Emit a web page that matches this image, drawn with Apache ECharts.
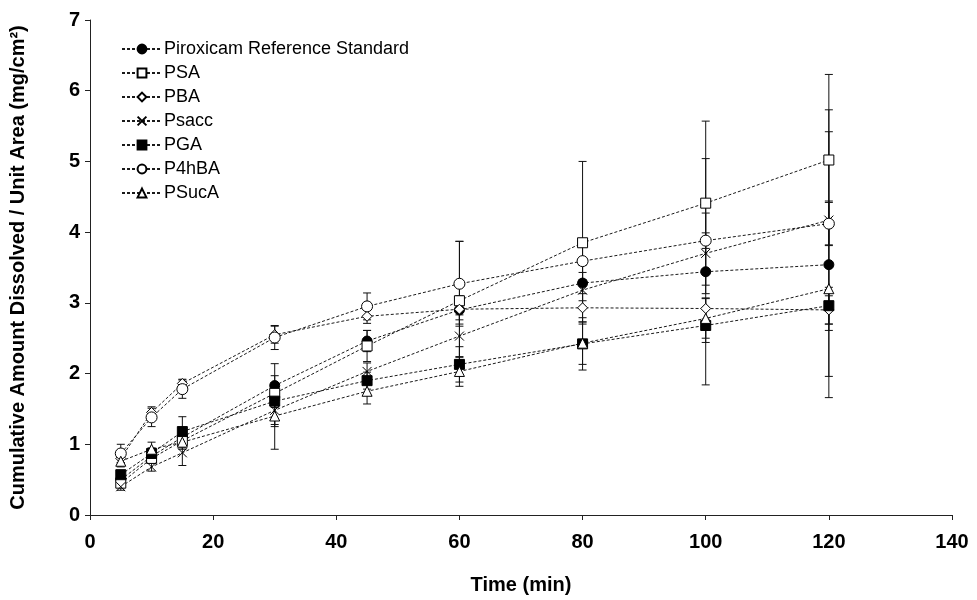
<!DOCTYPE html>
<html>
<head>
<meta charset="utf-8">
<title>Cumulative dissolution profiles</title>
<script src="https://cdn.jsdelivr.net/npm/echarts@6/dist/echarts.min.js"></script>
<style>
  html, body { margin: 0; padding: 0; background: #fff; }
  #chart { width: 977px; height: 600px; }
</style>
</head>
<body>
<div id="chart"></div>
<script>
// Sampling times (min)
const times = [5, 10, 15, 30, 45, 60, 80, 100, 120];

// Mean cumulative amount dissolved per unit area (mg/cm²) and SD for each formulation
const piroxicam   = [0.50, 0.83, 1.10, 1.83, 2.46, 2.90, 3.28, 3.44, 3.54];
const piroxicamSd = [0.05, 0.08, 0.10, 0.31, 0.15, 0.20, 0.25, 1.60, 1.88];

const psa   = [0.45, 0.80, 1.05, 1.72, 2.39, 3.03, 3.85, 4.41, 5.02];
const psaSd = [0.05, 0.06, 0.10, 0.15, 0.22, 0.84, 1.15, 1.16, 1.21];

const pba   = [0.80, 1.45, 1.86, 2.55, 2.81, 2.91, 2.93, 2.92, 2.90];
const pbaSd = [0.06, 0.08, 0.06, 0.12, 0.10, 0.15, 0.20, 0.15, 0.20];

const psacc   = [0.40, 0.68, 0.88, 1.48, 2.03, 2.53, 3.18, 3.70, 4.17];
const psaccSd = [0.05, 0.06, 0.18, 0.20, 0.12, 0.30, 0.25, 0.57, 1.56];

const pga   = [0.57, 0.87, 1.18, 1.61, 1.90, 2.13, 2.42, 2.68, 2.96];
const pgaSd = [0.06, 0.08, 0.21, 0.36, 0.12, 0.25, 0.37, 0.24, 0.26];

const p4hba   = [0.87, 1.38, 1.78, 2.51, 2.95, 3.27, 3.59, 3.88, 4.12];
const p4hbaSd = [0.13, 0.13, 0.13, 0.17, 0.19, 0.60, 0.26, 0.11, 0.30];

const psuca   = [0.76, 0.93, 1.03, 1.40, 1.75, 2.03, 2.43, 2.78, 3.20];
const psucaSd = [0.08, 0.10, 0.10, 0.47, 0.18, 0.21, 0.30, 0.28, 1.24];

// Y axis tick labels
const yTicks = ['0', '1', '2', '3', '4', '5', '6', '7'];

const crossPath = 'path://M0,0L10,10M0,10L10,0';

const seriesDefs = [
  { name: 'Piroxicam Reference Standard', values: piroxicam, sd: piroxicamSd, symbol: 'circle', fill: '#000', size: 10 },
  { name: 'PSA',   values: psa,   sd: psaSd,   symbol: 'rect',     fill: '#fff', size: 10 },
  { name: 'PBA',   values: pba,   sd: pbaSd,   symbol: 'diamond',  fill: '#fff', size: 10 },
  { name: 'Psacc', values: psacc, sd: psaccSd, symbol: crossPath,  fill: 'none', size: 9 },
  { name: 'PGA',   values: pga,   sd: pgaSd,   symbol: 'rect',     fill: '#000', size: 10 },
  { name: 'P4hBA', values: p4hba, sd: p4hbaSd, symbol: 'circle',   fill: '#fff', size: 11 },
  { name: 'PSucA', values: psuca, sd: psucaSd, symbol: 'triangle', fill: '#fff', size: 10 }
];

// Vertical ±SD bar with short caps at both ends
function renderErrorBar(params, api) {
  const x = api.value(0);
  const y = api.value(1);
  const e = api.value(2);
  const top = api.coord([x, y + e]);
  const bot = api.coord([x, y - e]);
  const hw = 4;
  const st = { stroke: '#111', lineWidth: 1 };
  return {
    type: 'group',
    children: [
      { type: 'line', shape: { x1: top[0], y1: top[1], x2: bot[0], y2: bot[1] }, style: st },
      { type: 'line', shape: { x1: top[0] - hw, y1: top[1], x2: top[0] + hw, y2: top[1] }, style: st },
      { type: 'line', shape: { x1: bot[0] - hw, y1: bot[1], x2: bot[0] + hw, y2: bot[1] }, style: st }
    ]
  };
}

const errorSeries = seriesDefs.map(d => ({
  name: d.name + ' SD',
  type: 'custom',
  renderItem: renderErrorBar,
  data: times.map((t, i) => [t, d.values[i], d.sd[i]]),
  encode: { x: 0, y: 1 },
  z: 1,
  silent: true
}));

const lineSeries = seriesDefs.map(d => ({
  name: d.name,
  type: 'line',
  data: times.map((t, i) => [t, d.values[i]]),
  symbol: d.symbol,
  symbolSize: d.size,
  showSymbol: true,
  z: 3,
  lineStyle: { color: '#1a1a1a', width: 1, type: [3, 2] },
  itemStyle: { color: d.fill, borderColor: '#000', borderWidth: 1 },
  emphasis: { disabled: true }
}));

const axisFont = { fontFamily: 'Liberation Sans', fontWeight: 'bold', color: '#000' };

const chart = echarts.init(document.getElementById('chart'), null, { renderer: 'canvas' });
chart.setOption({
  animation: false,
  backgroundColor: '#fff',
  grid: { left: 90, right: 25, top: 20, bottom: 78 },
  legend: {
    data: seriesDefs.map(d => d.name),
    orient: 'vertical',
    left: 116,
    top: 35,
    itemWidth: 40,
    itemHeight: 11,
    itemGap: 6,
    textStyle: { fontFamily: 'Liberation Sans', fontSize: 18, color: '#000', padding: [0, 0, 0, -3] },
    selectedMode: false
  },
  xAxis: {
    type: 'value',
    min: 0, max: 140, interval: 20,
    name: 'Time (min)',
    nameLocation: 'middle',
    nameGap: 60,
    nameTextStyle: Object.assign({ fontSize: 20 }, axisFont),
    axisLine: { lineStyle: { color: '#222', width: 1 } },
    axisTick: { inside: false, length: 5, lineStyle: { color: '#222' } },
    axisLabel: Object.assign({ fontSize: 20, margin: 17 }, axisFont),
    splitLine: { show: false }
  },
  yAxis: {
    type: 'value',
    min: 0, max: 7, interval: 1,
    name: 'Cumulative Amount Dissolved / Unit Area (mg/cm²)',
    nameLocation: 'middle',
    nameGap: 62,
    nameTextStyle: Object.assign({ fontSize: 20 }, axisFont),
    axisLine: { show: true, lineStyle: { color: '#222', width: 1 } },
    axisTick: { show: true, inside: false, length: 5, lineStyle: { color: '#222' } },
    axisLabel: Object.assign({ fontSize: 20, margin: 10, formatter: v => yTicks[Math.round(v)] }, axisFont),
    splitLine: { show: false }
  },
  series: errorSeries.concat(lineSeries)
});
</script>
</body>
</html>
